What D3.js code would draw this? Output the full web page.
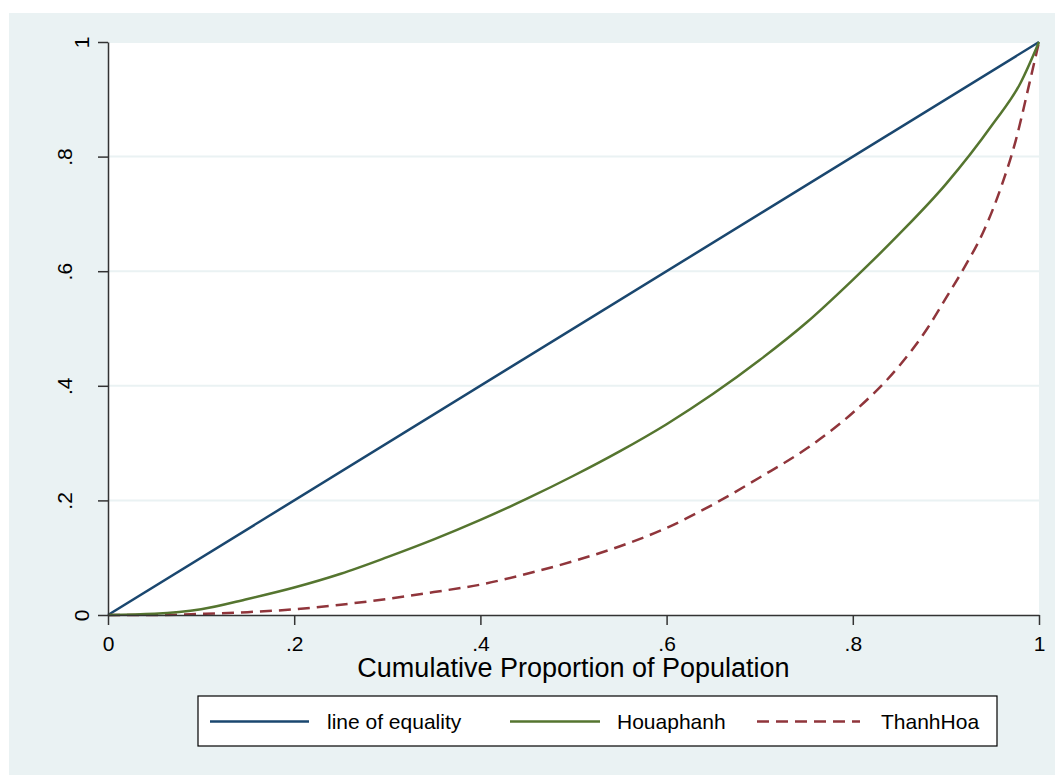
<!DOCTYPE html>
<html><head><meta charset="utf-8">
<script src="https://cdn.jsdelivr.net/npm/d3@7"></script>
<style>html,body{margin:0;padding:0;background:#fff;}svg{display:block;font-family:"Liberation Sans",Arial,sans-serif;}</style>
</head><body>
<script>
// Data
const xTicks = [0, 0.2, 0.4, 0.6, 0.8, 1];
const yTicks = [0, 0.2, 0.4, 0.6, 0.8, 1];
const tickLabels = ["0", ".2", ".4", ".6", ".8", "1"];
const equalityX = [0, 1];
const equalityY = [0, 1];
const houaphanhX = [0,0.05,0.1,0.15,0.2,0.25,0.3,0.35,0.4,0.45,0.5,0.55,0.6,0.65,0.7,0.75,0.8,0.85,0.9,0.95,0.98,1];
const houaphanhY = [0,0.002,0.01,0.028,0.048,0.072,0.101,0.132,0.166,0.203,0.243,0.286,0.333,0.386,0.445,0.51,0.585,0.665,0.752,0.856,0.928,1];
const thanhHoaX = [0,0.05,0.1,0.15,0.2,0.25,0.3,0.35,0.4,0.45,0.5,0.55,0.6,0.65,0.7,0.75,0.8,0.85,0.88,0.9,0.92,0.94,0.96,0.975,0.99,1];
const thanhHoaY = [0,0,0.002,0.005,0.01,0.018,0.028,0.04,0.053,0.072,0.094,0.12,0.152,0.193,0.24,0.29,0.353,0.435,0.5,0.553,0.607,0.668,0.75,0.828,0.93,1];
const seriesNames = ["line of equality", "Houaphanh", "ThanhHoa"];
const xTitle = "Cumulative Proportion of Population";

const W = 1055, H = 775;
const svg = d3.select("body").append("svg").attr("width", W).attr("height", H);
svg.append("rect").attr("x", 9).attr("y", 13).attr("width", W - 9).attr("height", H - 13).attr("fill", "#eaf2f3");

const x = d3.scaleLinear().domain([0, 1]).range([108, 1039]);
const y = d3.scaleLinear().domain([0, 1]).range([615, 42]);

svg.append("rect").attr("x", x(0)).attr("y", y(1)).attr("width", x(1) - x(0)).attr("height", y(0) - y(1)).attr("fill", "#fff");

// gridlines
svg.append("g").selectAll("line").data(yTicks.slice(1)).join("line")
  .attr("x1", x(0)).attr("x2", x(1)).attr("y1", d => y(d)).attr("y2", d => y(d))
  .attr("stroke", "#eaf2f3").attr("stroke-width", 2);

const colors = ["#1a476f", "#55752f", "#90353b"];
const dash = [null, null, "12,7"];
const data = [
  equalityX.map((v, i) => [v, equalityY[i]]),
  houaphanhX.map((v, i) => [v, houaphanhY[i]]),
  thanhHoaX.map((v, i) => [v, thanhHoaY[i]])
];
const line = d3.line().x(d => x(d[0])).y(d => y(d[1])).curve(d3.curveMonotoneX);
[0, 2, 1].forEach(i => {
  svg.append("path").datum(data[i]).attr("d", line).attr("fill", "none")
    .attr("stroke", colors[i]).attr("stroke-width", 2.5)
    .attr("stroke-dasharray", dash[i]);
});

// axes
const xAxis = svg.append("g").attr("transform", `translate(0,${y(0)})`)
  .call(d3.axisBottom(x).tickValues(xTicks).tickFormat((d, i) => tickLabels[i]).tickSize(10).tickSizeOuter(0).tickPadding(11));
const yAxis = svg.append("g").attr("transform", `translate(${x(0)},0)`)
  .call(d3.axisLeft(y).tickValues(yTicks).tickFormat((d, i) => tickLabels[i]).tickSize(10).tickSizeOuter(0));
[xAxis, yAxis].forEach(g => {
  g.select(".domain").attr("stroke", "#333").attr("stroke-width", 1.5);
  g.selectAll(".tick line").attr("stroke", "#333").attr("stroke-width", 1.5);
  g.selectAll("text").attr("fill", "#000").style("font-size", "21px").style("font-family", '"Liberation Sans",Arial,sans-serif');
});
yAxis.selectAll(".tick text")
  .attr("x", null).attr("dy", null)
  .attr("text-anchor", "middle")
  .attr("transform", (d, i) => `translate(${tickLabels[i].startsWith(".") ? -36 : -19},0) rotate(-90)`);

svg.append("text").attr("x", (x(0) + x(1)) / 2).attr("y", 677).attr("text-anchor", "middle")
  .style("font-size", "27px").attr("fill", "#000").text(xTitle);

// legend
svg.append("rect").attr("x", 198).attr("y", 696).attr("width", 799).attr("height", 50)
  .attr("fill", "#fff").attr("stroke", "#000").attr("stroke-width", 1.2);
const legItems = [
  {x1: 210, x2: 309, tx: 327},
  {x1: 510, x2: 600, tx: 617},
  {x1: 757, x2: 860, tx: 881}
];
legItems.forEach((it, i) => {
  svg.append("line").attr("x1", it.x1).attr("x2", it.x2).attr("y1", 721.5).attr("y2", 721.5)
    .attr("stroke", colors[i]).attr("stroke-width", 2.5).attr("stroke-dasharray", dash[i]);
  svg.append("text").attr("x", it.tx).attr("y", 729).style("font-size", "21px").attr("fill", "#000").text(seriesNames[i]);
});
</script>
</body></html>
